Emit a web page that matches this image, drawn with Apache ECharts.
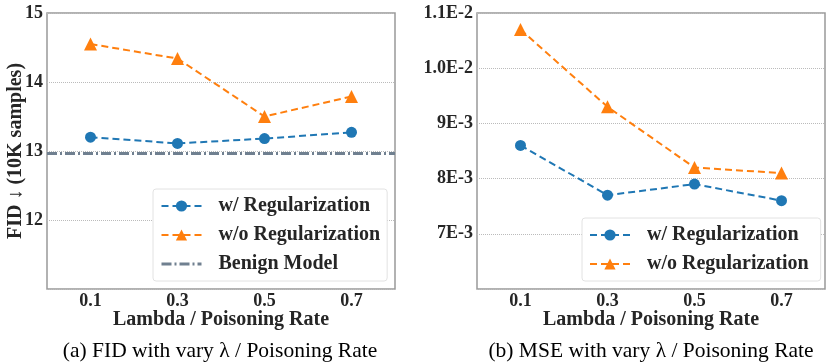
<!DOCTYPE html>
<html>
<head>
<meta charset="utf-8">
<script src="https://cdn.jsdelivr.net/npm/echarts@6/dist/echarts.min.js"></script>
<style>
  html, body { margin: 0; padding: 0; background: #fff; }
  #chart { width: 831px; height: 363px; }
</style>
</head>
<body>
<div id="chart"></div>
<script>
// data
const lambdas = ['0.1', '0.3', '0.5', '0.7'];
const fidWithReg = [13.2, 13.11, 13.18, 13.27];
const fidWithoutReg = [14.55, 14.34, 13.5, 13.79];
const fidBenign = 12.97;
const mseWithReg = [0.0086, 0.0077, 0.0079, 0.0076];
const mseWithoutReg = [0.0107, 0.0093, 0.0082, 0.0081];
// tick labels, from min upward ('' = unlabeled)
const fidTickLabels = ['', '12', '13', '14', '15'];
const mseTickLabels = ['', '7E-3', '8E-3', '9E-3', '1.0E-2', '1.1E-2'];

const serif = '"Liberation Serif", "Times New Roman", serif';
const blue = '#1f77b4', orange = '#ff7f0e', slate = '#708090';
const dash = [7, 4];
const dashDot = [10, 3, 2, 3];
const txt = '#262626';

const chart = echarts.init(document.getElementById('chart'));

function xAxisFor(gridIndex) {
  return {
    type: 'category', gridIndex: gridIndex, data: lambdas,
    name: 'Lambda / Poisoning Rate', nameLocation: 'middle', nameGap: 21, nameMoveOverlap: false,
    nameTextStyle: { fontFamily: serif, fontWeight: 'bold', fontSize: 20, color: txt },
    axisLine: { show: false }, axisTick: { show: false },
    axisLabel: { fontFamily: serif, fontWeight: 'bold', fontSize: 18, color: txt, margin: 3 }
  };
}

function legendFor(left, top, names) {
  return {
    orient: 'vertical', left: left, top: top, itemWidth: 40, itemHeight: 14, itemGap: 9,
    padding: [7, 7, 7, 7], backgroundColor: '#fff', borderColor: '#e2e2e2', borderWidth: 1, borderRadius: 3,
    textStyle: { fontFamily: serif, fontWeight: 'bold', fontSize: 20, color: txt, padding: [0, 0, 0, 12] },
    data: names
  };
}

const gridLine = { show: true, lineStyle: { color: '#bbb', type: [1, 1], width: 1 } };

const option = {
  animation: false,
  title: [
    { text: '(a) FID with vary λ / Poisoning Rate', left: 215, top: 335, textAlign: 'center',
      textStyle: { fontFamily: serif, fontWeight: 'normal', fontSize: 21.5, color: '#000' } },
    { text: '(b) MSE with vary λ / Poisoning Rate', left: 646, top: 335, textAlign: 'center',
      textStyle: { fontFamily: serif, fontWeight: 'normal', fontSize: 21.5, color: '#000' } }
  ],
  grid: [
    { left: 47, top: 13, width: 348, height: 276, show: true, borderColor: '#999', borderWidth: 1.5 },
    { left: 477, top: 13, width: 348, height: 276, show: true, borderColor: '#999', borderWidth: 1.5 }
  ],
  legend: [
    legendFor(153, 189, ['w/ Regularization', 'w/o Regularization',
      { name: 'Benign Model', itemStyle: { opacity: 0 }, lineStyle: { width: 3 } }]),
    legendFor(582, 218, ['w/ Regularization ', 'w/o Regularization '])
  ],
  xAxis: [xAxisFor(0), xAxisFor(1)],
  yAxis: [
    {
      type: 'value', gridIndex: 0, min: 11, max: 15, interval: 1,
      name: 'FID ↓ (10K samples)', nameLocation: 'middle', nameGap: 21, nameRotate: 90, nameMoveOverlap: false,
      nameTextStyle: { fontFamily: serif, fontWeight: 'bold', fontSize: 20, color: txt },
      axisLine: { show: false }, axisTick: { show: false }, splitLine: gridLine,
      axisLabel: { fontFamily: serif, fontWeight: 'bold', fontSize: 18, color: txt, margin: 4,
        formatter: v => fidTickLabels[Math.round(v - 11)] }
    },
    {
      type: 'value', gridIndex: 1, min: 0.006, max: 0.011, interval: 0.001,
      axisLine: { show: false }, axisTick: { show: false }, splitLine: gridLine,
      axisLabel: { fontFamily: serif, fontWeight: 'bold', fontSize: 18, color: txt, margin: 4,
        formatter: v => mseTickLabels[Math.round(v * 1000 - 6)] }
    }
  ],
  series: [
    { name: 'w/ Regularization', type: 'line', xAxisIndex: 0, yAxisIndex: 0, data: fidWithReg,
      symbol: 'circle', symbolSize: 11, itemStyle: { color: blue },
      lineStyle: { color: blue, width: 2, type: dash }, z: 4 },
    { name: 'w/o Regularization', type: 'line', xAxisIndex: 0, yAxisIndex: 0, data: fidWithoutReg,
      symbol: 'triangle', symbolSize: 13, itemStyle: { color: orange },
      lineStyle: { color: orange, width: 2, type: dash }, z: 4 },
    { name: 'Benign Model', type: 'line', xAxisIndex: 0, yAxisIndex: 0, data: [],
      symbol: 'none', itemStyle: { color: slate },
      lineStyle: { color: slate, width: 3, type: dashDot },
      markLine: { silent: true, symbol: 'none', label: { show: false },
        lineStyle: { color: slate, width: 3, type: dashDot },
        data: [{ yAxis: fidBenign }] }, z: 3 },
    { name: 'w/ Regularization ', type: 'line', xAxisIndex: 1, yAxisIndex: 1, data: mseWithReg,
      symbol: 'circle', symbolSize: 11, itemStyle: { color: blue },
      lineStyle: { color: blue, width: 2, type: dash }, z: 4 },
    { name: 'w/o Regularization ', type: 'line', xAxisIndex: 1, yAxisIndex: 1, data: mseWithoutReg,
      symbol: 'triangle', symbolSize: 13, itemStyle: { color: orange },
      lineStyle: { color: orange, width: 2, type: dash }, z: 4 }
  ]
};

chart.setOption(option);
</script>
</body>
</html>
